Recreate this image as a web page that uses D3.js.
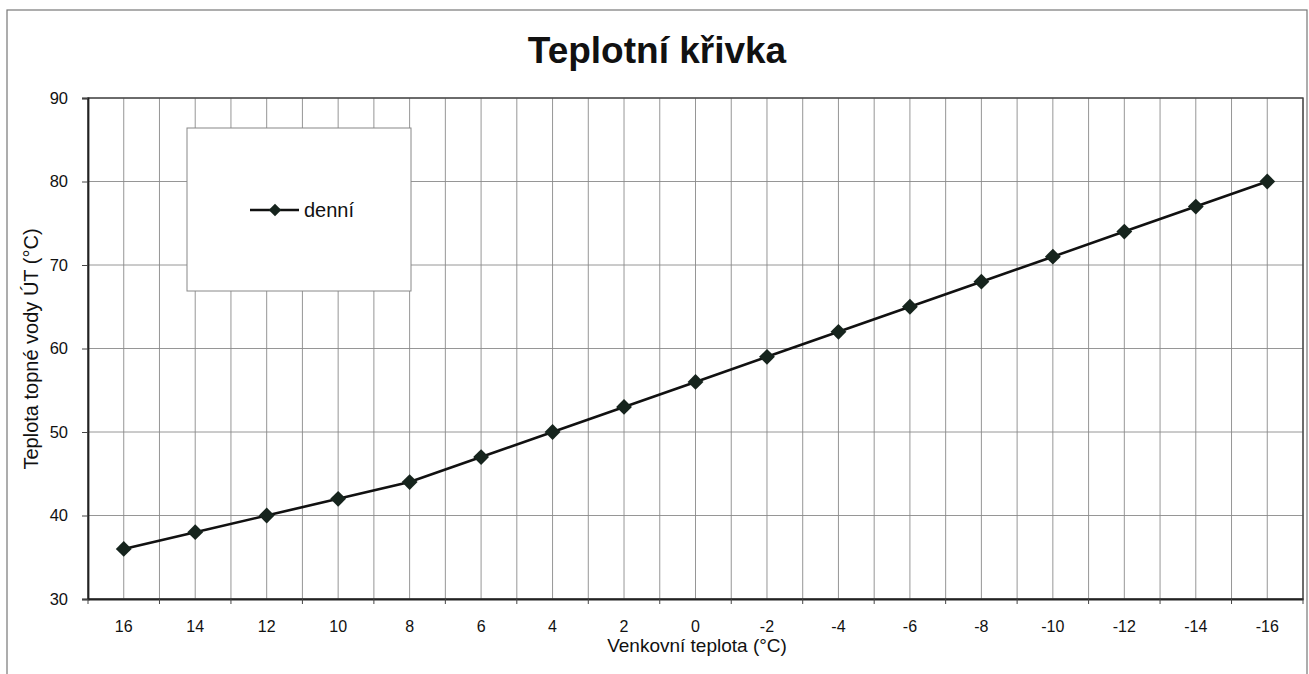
<!DOCTYPE html>
<html>
<head>
<meta charset="utf-8">
<script src="https://cdn.jsdelivr.net/npm/d3@7"></script>
<style>
  body { margin: 0; background: #fff; }
  text { font-family: "Liberation Sans", Arial, sans-serif; fill: #111; }
</style>
</head>
<body>
<svg width="1309" height="674"></svg>
<script>
// outside temperature categories (°C) and heating water temperature
const outdoorTemps = ["16", "14", "12", "10", "8", "6", "4", "2", "0", "-2", "-4", "-6", "-8", "-10", "-12", "-14", "-16"];
const dayValues = [36, 38, 40, 42, 44, 47, 50, 53, 56, 59, 62, 65, 68, 71, 74, 77, 80];
const yTicks = [30, 40, 50, 60, 70, 80, 90];
const seriesName = "denní";

const svg = d3.select("svg");

const plot = { left: 88, right: 1303, top: 98, bottom: 599 };

// outer frame
svg.append("rect")
    .attr("x", 7).attr("y", 10)
    .attr("width", 1300).attr("height", 700)
    .attr("fill", "none")
    .attr("stroke", "#777")
    .attr("stroke-width", 1.2);

svg.append("text")
    .attr("x", 657).attr("y", 63)
    .attr("text-anchor", "middle")
    .style("font-size", "37px")
    .attr("font-weight", "bold")
    .text("Teplotní křivka");

const x = d3.scaleBand()
    .domain(outdoorTemps)
    .range([plot.left, plot.right])
    .padding(0);

const y = d3.scaleLinear()
    .domain([30, 90])
    .range([plot.bottom, plot.top]);

const g = svg.append("g");

// horizontal grid
g.append("g")
    .selectAll("line")
    .data(yTicks)
    .join("line")
    .attr("x1", plot.left).attr("x2", plot.right)
    .attr("y1", d => y(d)).attr("y2", d => y(d))
    .attr("stroke", "#8a8a8a")
    .attr("stroke-width", 0.9);

// vertical grid: category boundaries and centres
const bounds = outdoorTemps.map(d => x(d)).concat([plot.right]);
const centres = outdoorTemps.map(d => x(d) + x.bandwidth() / 2);
g.append("g")
    .selectAll("line")
    .data(bounds.concat(centres))
    .join("line")
    .attr("x1", d => d).attr("x2", d => d)
    .attr("y1", plot.top).attr("y2", plot.bottom)
    .attr("stroke", "#8a8a8a")
    .attr("stroke-width", 0.9);

// plot border
g.append("rect")
    .attr("x", plot.left).attr("y", plot.top)
    .attr("width", plot.right - plot.left)
    .attr("height", plot.bottom - plot.top)
    .attr("fill", "none")
    .attr("stroke", "#444")
    .attr("stroke-width", 1.4);

// y axis
const yAxis = g.append("g")
    .attr("transform", `translate(${plot.left},0)`)
    .call(d3.axisLeft(y).tickValues(yTicks).tickSize(6).tickPadding(14));
yAxis.select(".domain").attr("stroke", "#222").attr("stroke-width", 1.8);
yAxis.selectAll(".tick line").attr("stroke", "#444");
yAxis.selectAll("text")
    .style("font-size", "16.5px")
    .style("font-family", "Liberation Sans, Arial, sans-serif")
    .attr("fill", "#111");

// x axis: labels at centres, ticks at boundaries
const xAxis = g.append("g")
    .attr("transform", `translate(0,${plot.bottom})`)
    .call(d3.axisBottom(x).tickSize(0).tickPadding(22));
xAxis.select(".domain").attr("stroke", "#222").attr("stroke-width", 1.8);
xAxis.selectAll("text")
    .style("font-size", "16px")
    .style("font-family", "Liberation Sans, Arial, sans-serif")
    .attr("fill", "#111");
g.append("g")
    .selectAll("line")
    .data(bounds)
    .join("line")
    .attr("x1", d => d).attr("x2", d => d)
    .attr("y1", plot.bottom).attr("y2", plot.bottom + 5)
    .attr("stroke", "#444");

svg.append("text")
    .attr("x", 697).attr("y", 652)
    .attr("text-anchor", "middle")
    .style("font-size", "19px")
    .text("Venkovní teplota (°C)");

svg.append("text")
    .attr("transform", "translate(38,349) rotate(-90)")
    .attr("text-anchor", "middle")
    .style("font-size", "20px")
    .text("Teplota topné vody ÚT (°C)");

// series
const line = d3.line()
    .x((d, i) => x(outdoorTemps[i]) + x.bandwidth() / 2)
    .y(d => y(d));

g.append("path")
    .datum(dayValues)
    .attr("d", line)
    .attr("fill", "none")
    .attr("stroke", "#111")
    .attr("stroke-width", 2.6);

const diamond = d3.symbol().type(d3.symbolDiamond2).size(160);
g.append("g")
    .selectAll("path")
    .data(dayValues)
    .join("path")
    .attr("transform", (d, i) => `translate(${x(outdoorTemps[i]) + x.bandwidth() / 2},${y(d)})`)
    .attr("d", diamond)
    .attr("fill", "#16241d");

// legend
const lg = svg.append("g");
lg.append("rect")
    .attr("x", 187).attr("y", 128)
    .attr("width", 224).attr("height", 163)
    .attr("fill", "#fff")
    .attr("stroke", "#888")
    .attr("stroke-width", 1);
lg.append("line")
    .attr("x1", 250).attr("x2", 299)
    .attr("y1", 210).attr("y2", 210)
    .attr("stroke", "#111")
    .attr("stroke-width", 2.6);
lg.append("path")
    .attr("transform", "translate(275,210)")
    .attr("d", d3.symbol().type(d3.symbolDiamond2).size(100))
    .attr("fill", "#16241d");
lg.append("text")
    .attr("x", 304).attr("y", 217)
    .style("font-size", "20px")
    .text(seriesName);
</script>
</body>
</html>
